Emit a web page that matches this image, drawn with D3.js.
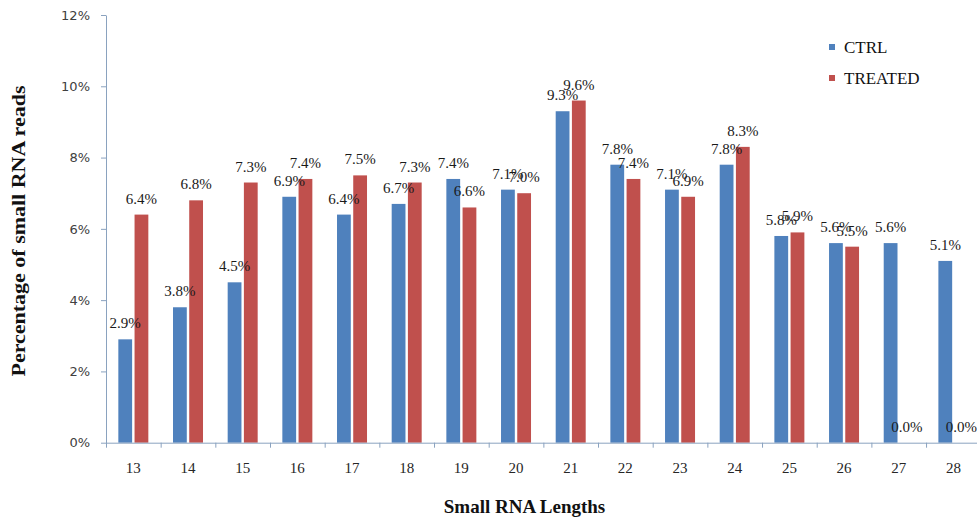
<!DOCTYPE html>
<html>
<head>
<meta charset="utf-8">
<script src="https://cdn.jsdelivr.net/npm/d3@7"></script>
<style>
  html, body { margin: 0; padding: 0; background: #ffffff; }
  svg { display: block; }
</style>
</head>
<body>
<svg id="chart" width="977" height="517"></svg>
<script>
// Small RNA length distribution, two libraries side by side
const categories = ['13','14','15','16','17','18','19','20','21','22','23','24','25','26','27','28'];
const seriesNames = ['CTRL', 'TREATED'];
const ctrlValues = [2.9, 3.8, 4.5, 6.9, 6.4, 6.7, 7.4, 7.1, 9.3, 7.8, 7.1, 7.8, 5.8, 5.6, 5.6, 5.1];
const treatedValues = [6.4, 6.8, 7.3, 7.4, 7.5, 7.3, 6.6, 7.0, 9.6, 7.4, 6.9, 8.3, 5.9, 5.5, 0.0, 0.0];
const yTickValues = [0, 2, 4, 6, 8, 10, 12];
const seriesColors = ['#4F81BD', '#C0504D'];

const svg = d3.select('#chart');

const plotLeft = 106, plotBottom = 442.7, plotTop = 15, step = 54.67;
const x = d3.scaleBand().domain(categories).range([plotLeft, plotLeft + categories.length * step]).padding(0);
const xEdges = d3.scaleLinear().domain([0, categories.length]).range(x.range());
const y = d3.scaleLinear().domain([0, 12]).range([plotBottom, plotTop]);
const inner = d3.scaleBand().domain(seriesNames).range([-15, 15]).paddingInner(0.15);
const color = d3.scaleOrdinal().domain(seriesNames).range(seriesColors);

const rows = categories.map((c, i) => ({ cat: c, values: [
  { key: 'CTRL', value: ctrlValues[i] },
  { key: 'TREATED', value: treatedValues[i] }
]}));

const axisColor = '#8aa2bf';

// bars
const groups = svg.append('g').selectAll('g').data(rows).join('g')
  .attr('transform', d => `translate(${x(d.cat) + x.bandwidth() / 2},0)`);

groups.selectAll('rect').data(d => d.values).join('rect')
  .attr('x', d => inner(d.key))
  .attr('width', inner.bandwidth())
  .attr('y', d => y(d.value))
  .attr('height', d => plotBottom - y(d.value))
  .attr('fill', d => color(d.key));

// y axis
const yAxis = svg.append('g')
  .attr('transform', `translate(${plotLeft},0)`)
  .call(d3.axisLeft(y).tickValues(yTickValues).tickFormat(d => d + '%').tickSize(5).tickSizeOuter(0).tickPadding(11));
yAxis.select('.domain').attr('stroke', axisColor);
yAxis.selectAll('.tick line').attr('stroke', axisColor);
yAxis.selectAll('.tick text')
  .attr('fill', '#404040')
  .style('font-family', '"DejaVu Sans", sans-serif')
  .style('font-size', '13px');

// x axis: boundary ticks
const xAxisTicks = svg.append('g')
  .attr('transform', `translate(0,${plotBottom})`)
  .call(d3.axisBottom(xEdges).tickValues(d3.range(categories.length + 1)).tickFormat('').tickSize(5).tickSizeOuter(0));
xAxisTicks.select('.domain').attr('stroke', axisColor);
xAxisTicks.selectAll('.tick line').attr('stroke', axisColor);

// x axis: category labels
const xAxisLabels = svg.append('g')
  .attr('transform', `translate(0,${plotBottom})`)
  .call(d3.axisBottom(x).tickSize(0).tickPadding(20));
xAxisLabels.select('.domain').remove();
xAxisLabels.selectAll('.tick text')
  .attr('fill', '#262626')
  .style('font-family', '"Liberation Serif", serif')
  .style('font-size', '15px');

// value labels above each bar
groups.selectAll('text.val').data(d => d.values).join('text')
  .attr('class', 'val')
  .attr('x', d => inner(d.key) + inner.bandwidth() / 2)
  .attr('y', d => y(d.value) - 11)
  .attr('text-anchor', 'middle')
  .attr('fill', '#1a1a1a')
  .style('font-family', '"Liberation Serif", serif')
  .style('font-size', '15px')
  .text(d => d.value.toFixed(1) + '%');

// axis titles
svg.append('text')
  .attr('transform', 'translate(25,231) rotate(-90)')
  .attr('text-anchor', 'middle')
  .attr('textLength', 291)
  .attr('lengthAdjust', 'spacingAndGlyphs')
  .attr('fill', '#111')
  .style('font-family', '"Liberation Serif", serif')
  .style('font-weight', 'bold')
  .style('font-size', '19px')
  .text('Percentage of small RNA reads');

svg.append('text')
  .attr('x', 524.5)
  .attr('y', 513)
  .attr('text-anchor', 'middle')
  .attr('fill', '#111')
  .style('font-family', '"Liberation Serif", serif')
  .style('font-weight', 'bold')
  .style('font-size', '19px')
  .text('Small RNA Lengths');

// legend
const legend = svg.append('g').selectAll('g').data(seriesNames).join('g')
  .attr('transform', (d, i) => `translate(829,${47 + i * 31})`);
legend.append('rect')
  .attr('x', 0).attr('y', -3).attr('width', 6).attr('height', 6)
  .attr('fill', d => color(d));
legend.append('text')
  .attr('x', 15).attr('y', 6)
  .attr('fill', '#111')
  .style('font-family', '"Liberation Serif", serif')
  .style('font-size', '17px')
  .text(d => d);
</script>
</body>
</html>
